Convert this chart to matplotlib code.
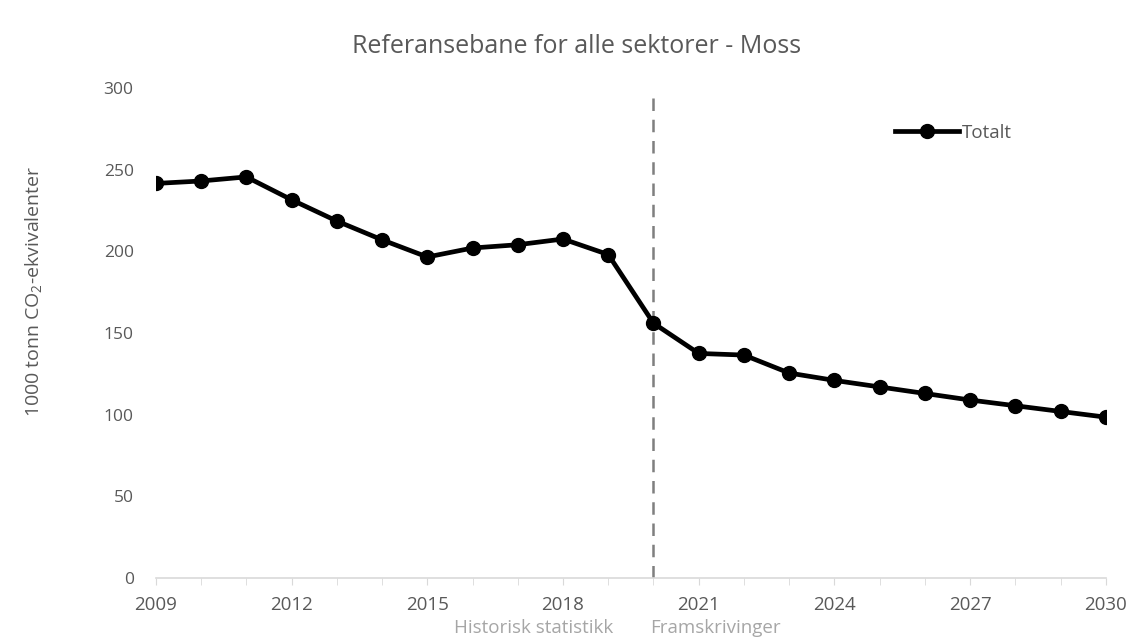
import matplotlib.pyplot as plt
import matplotlib.transforms as mtransforms

plt.rcParams['font.family'] = ['Open Sans', 'DejaVu Sans']
plt.rcParams['mathtext.default'] = 'regular'

# Data
years = list(range(2009, 2031))
totalt = [241.5, 243, 245.5, 231.5, 218.5, 207, 196.5, 202, 204, 207.5, 198, 156,
          137.5, 136.5, 125.5, 121, 117, 113, 109, 105.5, 102, 98.5]
tick_years = [2009, 2012, 2015, 2018, 2021, 2024, 2027, 2030]
split_year = 2020

text_col = '#595959'

fig = plt.figure(figsize=(11.46, 6.41), dpi=100)
ax = fig.add_axes([0.136, 0.098, 0.829, 0.765])

ax.plot(years, totalt, color='black', lw=3.4, marker='o', markersize=10,
        label='Totalt', zorder=3)
ax.axvline(split_year, ymin=0, ymax=0.987, color='#7f7f7f', lw=1.8,
           linestyle=(0, (5, 3.5)), zorder=2)

ax.set_xlim(2009, 2030)
ax.set_ylim(0, 300)
ax.set_yticks(range(0, 301, 50))
ax.set_xticks(years, minor=True)
ax.set_xticks(tick_years)

for s in ['top', 'right', 'left']:
    ax.spines[s].set_visible(False)
ax.spines['bottom'].set_color('#d9d9d9')
ax.spines['bottom'].set_linewidth(1.2)

ax.tick_params(axis='y', length=0, labelsize=12.5, labelcolor=text_col, pad=16)
ax.tick_params(axis='x', which='both', length=5, color='#d9d9d9',
               labelsize=13.5, labelcolor=text_col, pad=8)

ax.set_ylabel(r'1000 tonn CO$_2$-ekvivalenter', fontsize=14, color=text_col)
ax.yaxis.set_label_coords(-0.118, 0.585)
fig.suptitle('Referansebane for alle sektorer - Moss', x=0.503, y=0.947,
             fontsize=18, color=text_col)

trans = mtransforms.blended_transform_factory(ax.transData, ax.transAxes)
ax.text(split_year - 0.9, -0.102, 'Historisk statistikk', transform=trans,
        ha='right', va='center', fontsize=13.5, color='#a6a6a6')
ax.text(split_year - 0.08, -0.102, 'Framskrivinger', transform=trans,
        ha='left', va='center', fontsize=13.5, color='#a6a6a6')

leg = ax.legend(loc='center left', bbox_to_anchor=(0.76, 0.908), frameon=False,
                fontsize=13.5, handlelength=3.4, handletextpad=0.2)
for t in leg.get_texts():
    t.set_color(text_col)

fig.savefig('out.png', dpi=100, facecolor='white')
